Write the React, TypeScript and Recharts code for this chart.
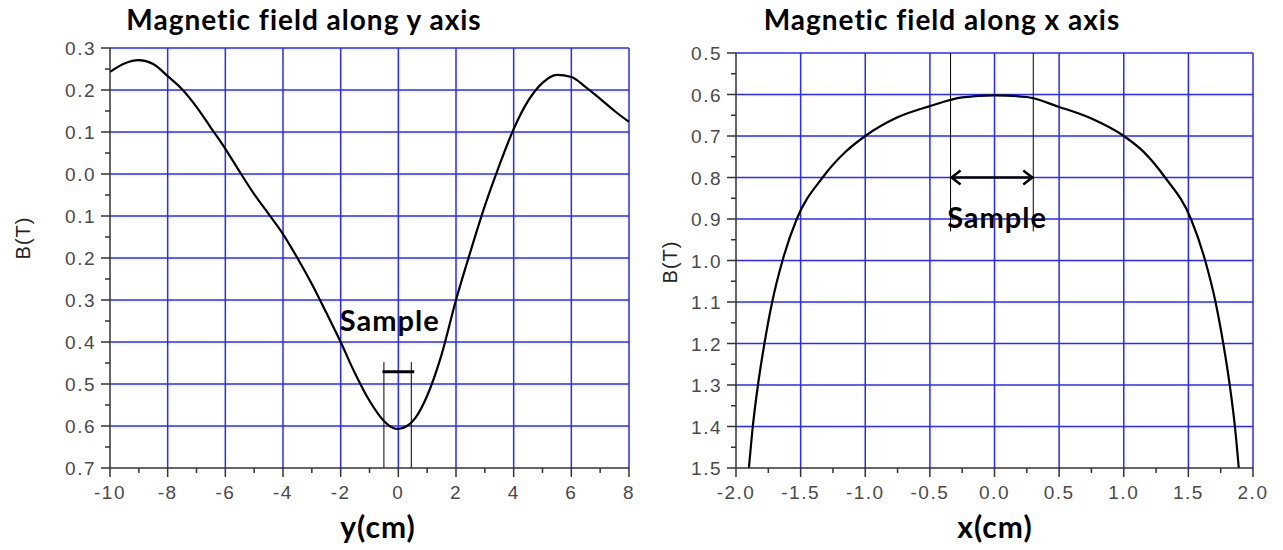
import React from 'react'
import {
  CartesianGrid,
  Line,
  LineChart,
  ReferenceDot,
  ReferenceLine,
  XAxis,
  YAxis,
} from 'recharts'

// field along y (left chart)
const yPos = [-10, -9.5, -9, -8.5, -8, -7.5, -7, -6.5, -6, -5.5, -5, -4.5, -4, -3.5, -3, -2.5, -2, -1.5, -1, -0.5, -0.2, 0, 0.3, 0.6, 1, 1.5, 2, 2.5, 3, 3.5, 4, 4.5, 5, 5.5, 6, 6.5, 7, 7.5, 8]
const fieldY = [0.243, 0.263, 0.271, 0.262, 0.233, 0.202, 0.16, 0.11, 0.06, 0.005, -0.048, -0.095, -0.143, -0.2, -0.262, -0.33, -0.4, -0.475, -0.54, -0.588, -0.604, -0.607, -0.6, -0.58, -0.528, -0.43, -0.3, -0.185, -0.076, 0.02, 0.107, 0.174, 0.217, 0.236, 0.231, 0.207, 0.179, 0.15, 0.124]

// field along x (right chart)
const xPos = [-1.9, -1.87, -1.83, -1.78, -1.72, -1.64, -1.53, -1.33, -1.15, -1.0, -0.75, -0.5, -0.25, 0, 0.25, 0.5, 0.75, 1.0, 1.15, 1.32, 1.52, 1.63, 1.71, 1.77, 1.82, 1.86, 1.89]
const fieldX = [-1.5, -1.4, -1.3, -1.2, -1.1, -1.0, -0.9, -0.8, -0.7375, -0.7, -0.655, -0.628, -0.607, -0.602, -0.606, -0.63, -0.658, -0.7, -0.737, -0.8, -0.9, -1.0, -1.1, -1.2, -1.3, -1.4, -1.5]

// ticks (majors + minors)
const leftXTicks = [-10, -9, -8, -7, -6, -5, -4, -3, -2, -1, 0, 1, 2, 3, 4, 5, 6, 7, 8]
const leftXGrid = [-8, -6, -4, -2, 0, 2, 4, 6, 8]
const leftYTicks = [-0.7, -0.65, -0.6, -0.55, -0.5, -0.45, -0.4, -0.35, -0.3, -0.25, -0.2, -0.15, -0.1, -0.05, 0, 0.05, 0.1, 0.15, 0.2, 0.25, 0.3]
const leftYGrid = [-0.6, -0.5, -0.4, -0.3, -0.2, -0.1, 0, 0.1, 0.2, 0.3]
const rightXTicks = [-2, -1.75, -1.5, -1.25, -1, -0.75, -0.5, -0.25, 0, 0.25, 0.5, 0.75, 1, 1.25, 1.5, 1.75, 2]
const rightXGrid = [-1.5, -1, -0.5, 0, 0.5, 1, 1.5, 2]
const rightYTicks = [-1.5, -1.45, -1.4, -1.35, -1.3, -1.25, -1.2, -1.15, -1.1, -1.05, -1, -0.95, -0.9, -0.85, -0.8, -0.75, -0.7, -0.65, -0.6, -0.55, -0.5]
const rightYGrid = [-1.4, -1.3, -1.2, -1.1, -1, -0.9, -0.8, -0.7, -0.6, -0.5]

const leftData = yPos.map((p, i) => ({ pos: p, b: fieldY[i] }))
const rightData = xPos.map((p, i) => ({ pos: p, b: fieldX[i] }))

const GRID = '#2a2aff'
const AXIS = '#333'
const TICK_FONT = '"Liberation Sans", Arial, sans-serif'
const TITLE_FONT = 'Lato, "Open Sans", sans-serif'

const isMajor = (v: number, step: number) => Math.abs(v / step - Math.round(v / step)) < 1e-6

const makeYTick = (step: number) => (props: any) => {
  const { x, y, payload } = props
  const major = isMajor(payload.value, step)
  const len = major ? 9 : 5
  return (
    <g>
      <line x1={x} x2={x - len} y1={y} y2={y} stroke={AXIS} strokeWidth={1.5} />
      {major && (
        <text x={x - 14} y={y} dy={7} textAnchor="end" fill="#4a4a4a" fontSize={19} fontFamily={TICK_FONT} letterSpacing={1.5}>
          {Math.abs(payload.value).toFixed(1)}
        </text>
      )}
    </g>
  )
}

const makeXTick = (step: number, digits: number) => (props: any) => {
  const { x, y, payload } = props
  const major = isMajor(payload.value, step)
  const len = major ? 9 : 5
  return (
    <g>
      <line x1={x} x2={x} y1={y} y2={y + len} stroke={AXIS} strokeWidth={1.5} />
      {major && (
        <text x={x} y={y + 31} textAnchor="middle" fill="#4a4a4a" fontSize={19} fontFamily={TICK_FONT} letterSpacing={1.5}>
          {payload.value.toFixed(digits)}
        </text>
      )}
    </g>
  )
}

const sampleLabel = {
  value: 'Sample',
  position: 'center' as const,
  fill: '#000',
  fontSize: 29,
  fontWeight: 700,
  fontFamily: TITLE_FONT,
  letterSpacing: 1,
}

const Arrow = (props: any) => {
  const { x1, y1, x2, y2 } = props
  return (
    <g stroke="#000" strokeWidth={2.5} fill="none">
      <line x1={x1} y1={y1} x2={x2} y2={y2} />
      <polyline points={`${x1 + 10},${y1 - 7} ${x1 + 1},${y1} ${x1 + 10},${y1 + 7}`} />
      <polyline points={`${x2 - 10},${y2 - 7} ${x2 - 1},${y2} ${x2 - 10},${y2 + 7}`} />
    </g>
  )
}

const title: React.CSSProperties = {
  position: 'absolute',
  top: 2,
  fontFamily: TITLE_FONT,
  fontWeight: 700,
  fontSize: 28,
  letterSpacing: 1,
  color: '#000',
  transform: 'translateX(-50%)',
  whiteSpace: 'nowrap',
}

const axisTitle: React.CSSProperties = {
  position: 'absolute',
  fontFamily: TITLE_FONT,
  fontWeight: 700,
  fontSize: 30,
  letterSpacing: 1,
  color: '#000',
  transform: 'translateX(-50%)',
  whiteSpace: 'nowrap',
}

const bLabel: React.CSSProperties = {
  position: 'absolute',
  fontFamily: TICK_FONT,
  fontSize: 20,
  letterSpacing: 1,
  color: '#222',
  transform: 'translate(-50%, -50%) rotate(-90deg)',
  whiteSpace: 'nowrap',
}

export default function App() {
  return (
    <div style={{ position: 'absolute', left: 0, top: 0, width: 1283, height: 550, background: '#fff' }}>
      <div style={{ ...title, left: 304 }}>Magnetic field along y axis</div>
      <div style={{ ...title, left: 942 }}>Magnetic field along x axis</div>
      <div style={{ ...bLabel, left: 23, top: 238 }}>B(T)</div>
      <div style={{ ...bLabel, left: 670, top: 262 }}>B(T)</div>
      <div style={{ ...axisTitle, left: 378, top: 508 }}>y(cm)</div>
      <div style={{ ...axisTitle, left: 995, top: 508 }}>x(cm)</div>

      <div style={{ position: 'absolute', left: 0, top: 0 }}>
        <LineChart width={640} height={550} data={leftData} margin={{ top: 48, right: 11, bottom: 52, left: 50 }}>
          <CartesianGrid stroke={GRID} strokeWidth={1.5} horizontalValues={leftYGrid} verticalValues={leftXGrid} />
          <XAxis
            dataKey="pos"
            type="number"
            domain={[-10, 8]}
            ticks={leftXTicks}
            interval={0}
            height={30}
            tickSize={0}
            tickMargin={0}
            tickLine={false}
            axisLine={{ stroke: AXIS, strokeWidth: 1.5 }}
            tick={makeXTick(2, 0)}
          />
          <YAxis
            type="number"
            domain={[-0.7, 0.3]}
            ticks={leftYTicks}
            interval={0}
            width={60}
            tickSize={0}
            tickMargin={0}
            tickLine={false}
            axisLine={{ stroke: AXIS, strokeWidth: 1.5 }}
            tick={makeYTick(0.1)}
          />
          <ReferenceLine segment={[{ x: -0.5, y: -0.7 }, { x: -0.5, y: -0.448 }]} stroke="#000" strokeWidth={1} />
          <ReferenceLine segment={[{ x: 0.45, y: -0.7 }, { x: 0.45, y: -0.448 }]} stroke="#000" strokeWidth={1} />
          <ReferenceLine segment={[{ x: -0.55, y: -0.471 }, { x: 0.55, y: -0.471 }]} stroke="#000" strokeWidth={3} />
          <ReferenceDot x={-0.3} y={-0.35} r={0} fill="none" stroke="none" label={sampleLabel} />
          <Line type="monotone" dataKey="b" stroke="#000" strokeWidth={2.2} dot={false} isAnimationActive={false} />
        </LineChart>
      </div>

      <div style={{ position: 'absolute', left: 640, top: 0 }}>
        <LineChart width={643} height={550} data={rightData} margin={{ top: 53, right: 30, bottom: 52, left: 36 }}>
          <CartesianGrid stroke={GRID} strokeWidth={1.5} horizontalValues={rightYGrid} verticalValues={rightXGrid} />
          <XAxis
            dataKey="pos"
            type="number"
            domain={[-2, 2]}
            ticks={rightXTicks}
            interval={0}
            height={30}
            tickSize={0}
            tickMargin={0}
            tickLine={false}
            axisLine={{ stroke: AXIS, strokeWidth: 1.5 }}
            tick={makeXTick(0.5, 1)}
          />
          <YAxis
            type="number"
            domain={[-1.5, -0.5]}
            ticks={rightYTicks}
            interval={0}
            width={60}
            tickSize={0}
            tickMargin={0}
            tickLine={false}
            axisLine={{ stroke: AXIS, strokeWidth: 1.5 }}
            tick={makeYTick(0.1)}
          />
          <ReferenceLine segment={[{ x: -0.34, y: -0.5 }, { x: -0.34, y: -0.93 }]} stroke="#000" strokeWidth={1} />
          <ReferenceLine segment={[{ x: 0.3, y: -0.5 }, { x: 0.3, y: -0.93 }]} stroke="#000" strokeWidth={1} />
          <ReferenceLine segment={[{ x: -0.34, y: -0.8 }, { x: 0.3, y: -0.8 }]} shape={Arrow} />
          <ReferenceDot x={0.02} y={-0.898} r={0} fill="none" stroke="none" label={sampleLabel} />
          <Line type="monotone" dataKey="b" stroke="#000" strokeWidth={2.2} dot={false} isAnimationActive={false} />
        </LineChart>
      </div>
    </div>
  )
}
